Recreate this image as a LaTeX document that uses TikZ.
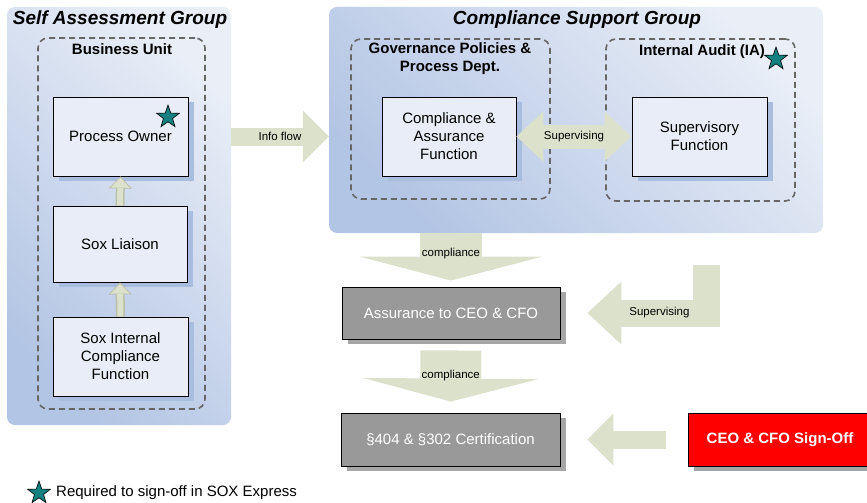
\documentclass[tikz,border=0pt]{standalone}
\usepackage{fontspec}
\setmainfont{Liberation Sans}
\usetikzlibrary{arrows.meta}
\usetikzlibrary{calc}
\usetikzlibrary{shapes.geometric}
\usetikzlibrary{shadows}

\definecolor{panellight}{HTML}{E9EEF7}
\definecolor{paneldark}{HTML}{B3C5E4}
\definecolor{boxfill}{HTML}{E9EDF7}
\definecolor{boxshade}{HTML}{A9BDDF}
\definecolor{dashgray}{HTML}{666666}
\definecolor{arrowfill}{HTML}{DCE1CC}
\definecolor{arrowedge}{HTML}{B9BEA8}
\definecolor{greyfill}{HTML}{999999}
\definecolor{greyshade}{HTML}{A6A6A6}
\definecolor{starteal}{HTML}{148080}

\newcommand{\mainsize}{\fontsize{15}{18}\selectfont}
\newcommand{\smallsize}{\fontsize{11.5}{13}\selectfont}
\newcommand{\titlesize}{\fontsize{19}{22}\selectfont\bfseries\itshape}

\begin{document}
\begin{tikzpicture}[x=1pt, y=-1pt,
    panel/.style={rectangle, rounded corners=8pt, draw=none, inner sep=0pt,
      top color=panellight, bottom color=paneldark, shading angle=-45},
    unitbox/.style={rectangle, rounded corners=10pt, draw=dashgray, line width=1.6pt,
      dash pattern=on 6pt off 4pt, inner sep=0pt},
    unittitle/.style={font=\mainsize\bfseries, align=center},
    funcbox/.style={rectangle, draw=black, line width=0.9pt, fill=boxfill, align=center,
      font=\mainsize, inner sep=2pt,
      general shadow={fill=boxshade, shadow xshift=6pt, shadow yshift=-5pt}},
    certbox/.style={rectangle, draw=black, line width=0.9pt, fill=greyfill, text=white,
      font=\mainsize, inner sep=2pt,
      general shadow={fill=greyshade, shadow xshift=6pt, shadow yshift=-5pt}},
    fatarrow/.style={color=arrowfill, line cap=butt},
    lbl/.style={font=\smallsize, text=black, inner sep=1pt},
    sigstar/.style={star, star points=5, star point ratio=2.5, fill=starteal, draw=black,
      line width=0.6pt, minimum size=24pt, inner sep=0pt}]
  \useasboundingbox (0,0) rectangle (867,503);

  % groups
  \node[panel, minimum width=224pt, minimum height=418pt] (sa) at (119,216) {};
  \node[font=\titlesize] (satitle) at (120,20) {Self Assessment Group};
  \node[panel, minimum width=494pt, minimum height=226pt] (cs) at (576,120) {};
  \node[font=\titlesize] (cstitle) at (577,20) {Compliance Support Group};

  % dashed units
  \node[unitbox, minimum width=167pt, minimum height=371pt] (bu) at (121.5,223.5) {};
  \node[unittitle] (butitle) at (122,49) {Business Unit};
  \node[unitbox, minimum width=199pt, minimum height=160pt] (gov) at (450.5,119) {};
  \node[unittitle] (govtitle) at (450,59) {Governance Policies \&\\Process Dept.};
  \node[unitbox, minimum width=189pt, minimum height=162pt] (ia) at (700.5,120) {};
  \node[unittitle] (iatitle) at (702,52) {Internal Audit (IA)};

  % functions
  \node[funcbox, minimum width=135pt, minimum height=79pt] (owner) at (120.5,136.5) {Process Owner};
  \node[funcbox, minimum width=134pt, minimum height=76pt] (liaison) at (120,244) {Sox Liaison};
  \node[funcbox, minimum width=135pt, minimum height=79pt] (sicf) at (120.5,356.5) {Sox Internal\\Compliance\\Function};
  \node[funcbox, minimum width=134pt, minimum height=79pt] (ca) at (449,136.5) {Compliance \&\\Assurance\\Function};
  \node[funcbox, minimum width=135pt, minimum height=79pt] (sup) at (699.5,136.5) {Supervisory\\Function};

  \node[certbox, minimum width=218pt, minimum height=52pt] (assure) at (451,313) {Assurance to CEO \& CFO};
  \node[certbox, minimum width=219pt, minimum height=53pt] (cert) at (450.5,439.5) {\S404 \& \S302 Certification};
  \node[certbox, fill=red, font=\mainsize\bfseries, minimum width=184pt, minimum height=53pt] (ceo) at (780,439.5) {CEO \& CFO Sign-Off};

  % stars
  \node[sigstar] (star1) at (168,117) {};
  \node[sigstar] (star2) at (776,59) {};

  % arrows
  \draw[color=arrowedge, line width=9pt, -{Triangle[width=23pt, length=12pt, line width=0pt]}] (liaison.north) -- (owner.south);
  \draw[fatarrow, line width=6pt, -{Triangle[width=19pt, length=10pt, line width=0pt]}, shorten >=1.2pt] (liaison.north) -- (owner.south);
  \draw[color=arrowedge, line width=9pt, -{Triangle[width=23pt, length=12pt, line width=0pt]}] (sicf.north) -- (liaison.south);
  \draw[fatarrow, line width=6pt, -{Triangle[width=19pt, length=10pt, line width=0pt]}, shorten >=1.2pt] (sicf.north) -- (liaison.south);
  \draw[fatarrow, line width=18pt, -{Triangle[width=52pt, length=26pt, line width=0pt]}]
    (sa.east |- owner.east) -- (cs.west |- owner.west) node[lbl, midway] (infolbl) {Info flow};
  \draw[fatarrow, line width=24pt, {Triangle[width=50pt, length=27pt, line width=0pt]}-{Triangle[width=50pt, length=27pt, line width=0pt]}]
    (ca.east) -- (sup.west) node[lbl, midway] (suplbl) {Supervising};
  \draw[fatarrow, line width=62pt, -{Triangle[width=183pt, length=24pt, line width=0pt]}, shorten >=6pt]
    (cs.south -| assure.north) -- (assure.north) node[lbl, pos=0.38] (complbl) {compliance};
  \draw[fatarrow, line width=61pt, -{Triangle[width=175pt, length=23pt, line width=0pt]}, shorten <=11pt, shorten >=11pt]
    (assure.south) -- (cert.north) node[lbl, pos=0.49] (complbl2) {compliance};
  \coordinate (supstart) at (706,265);
  \draw[fatarrow, line width=27pt, -{Triangle[width=63pt, length=34pt, line width=0pt]}, shorten >=27pt]
    (supstart) |- (assure.east) node[lbl, pos=0.66] (suplbl2) {Supervising};
  \draw[fatarrow, line width=18pt, -{Triangle[width=52pt, length=26pt, line width=0pt]}, shorten <=22pt, shorten >=27pt]
    (ceo.west) -- (cert.east);

  % legend
  \node[sigstar] (legstar) at (39,493) {};
  \node[anchor=west, font=\mainsize, inner sep=0pt] (legtxt) at (56,493) {Required to sign-off in SOX Express};
\end{tikzpicture}
\end{document}
